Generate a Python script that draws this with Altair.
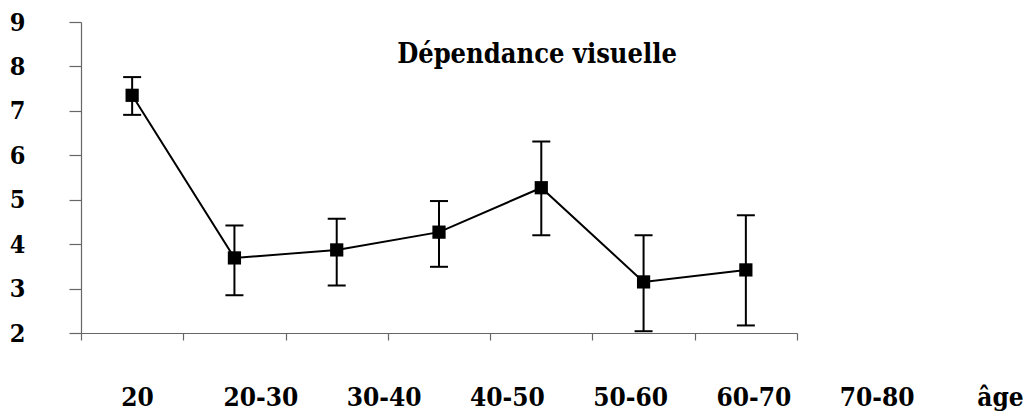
import altair as alt
import pandas as pd

categories = ["20", "20-30", "30-40", "40-50", "50-60", "60-70", "70-80"]
means = [7.35, 3.69, 3.87, 4.27, 5.27, 3.15, 3.42]
lower = [6.91, 2.85, 3.07, 3.49, 4.20, 2.04, 2.17]
upper = [7.76, 4.42, 4.57, 4.97, 6.31, 4.20, 4.65]
x_labels = categories + ["âge"]
y_ticks = [2, 3, 4, 5, 6, 7, 8, 9]
title_text = ["Dépendance visuelle"]

FONT = "DejaVu Serif Condensed"
AXIS_COLOR = "#666666"

df = pd.DataFrame({
    "cat": categories,
    "pos": [i + 0.5 for i in range(len(categories))],
    "mean": means,
    "lo": lower,
    "hi": upper,
})
lab_df = pd.DataFrame({"lab": x_labels})
title_df = pd.DataFrame({"t": title_text})

xscale = alt.Scale(domain=[0, len(categories)], nice=False, zero=False)
xaxis = alt.Axis(values=list(range(len(categories) + 1)), labels=False, title=None,
                 grid=False, tickSize=7, domainColor=AXIS_COLOR, tickColor=AXIS_COLOR,
                 domainWidth=1.2, tickWidth=1.2)
yscale = alt.Scale(domain=[min(y_ticks), max(y_ticks)], nice=False, zero=False)
yaxis = alt.Axis(values=y_ticks, title=None, grid=False, tickSize=12,
                 labelFontSize=25, labelFont=FONT, labelFontWeight="bold",
                 labelPadding=44, labelColor="black", domainColor=AXIS_COLOR,
                 tickColor=AXIS_COLOR, domainWidth=1.2, tickWidth=1.2)

X = alt.X("pos:Q", scale=xscale, axis=xaxis)

base = alt.Chart(df)
line = base.mark_line(color="black", strokeWidth=2).encode(
    x=X, y=alt.Y("mean:Q", scale=yscale, axis=yaxis))
bars = base.mark_rule(color="black", strokeWidth=2).encode(
    x=X, y=alt.Y("lo:Q", scale=yscale, axis=yaxis), y2="hi:Q")
cap_lo = base.mark_tick(color="black", orient="horizontal", size=18, thickness=2, opacity=1).encode(
    x=X, y=alt.Y("lo:Q", scale=yscale, axis=yaxis))
cap_hi = base.mark_tick(color="black", orient="horizontal", size=18, thickness=2, opacity=1).encode(
    x=X, y=alt.Y("hi:Q", scale=yscale, axis=yaxis))
points = base.mark_point(shape="square", filled=True, size=175, color="black", opacity=1).encode(
    x=X, y=alt.Y("mean:Q", scale=yscale, axis=yaxis))

title = alt.Chart(title_df).mark_text(font=FONT, fontSize=27, fontWeight="bold", color="black",
                                      align="center", baseline="alphabetic").encode(
    text="t:N", x=alt.value(456), y=alt.value(41))

main = alt.layer(line, bars, cap_lo, cap_hi, points, title)

labels = alt.Chart(lab_df).mark_point(opacity=0).encode(
    x=alt.X("lab:N", sort=x_labels,
            scale=alt.Scale(type="point", range=[56, 919], padding=0),
            axis=alt.Axis(orient="bottom", domain=False, ticks=False, labelAngle=0,
                          labelFontSize=26, labelFont=FONT, labelFontWeight="bold",
                          labelPadding=51, labelColor="black", title=None))
)

chart = alt.layer(main, labels).resolve_scale(x="independent").resolve_axis(x="independent").properties(
    width=716, height=311,
    autosize=alt.AutoSizeParams(type="none"),
    padding={"left": 81, "top": 22, "right": 232, "bottom": 87},
).configure(background="white").configure_view(stroke=None)

chart.save("out.html", embed_options={"renderer": "svg", "actions": False})
